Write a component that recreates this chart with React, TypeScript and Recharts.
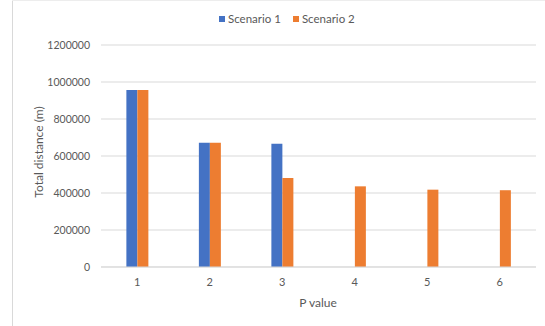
import React from 'react';
import { BarChart, Bar, XAxis, YAxis, CartesianGrid, Legend } from 'recharts';

const categories = ['1', '2', '3', '4', '5', '6'];
const scenario1 = [957000, 672000, 666000, null, null, null];
const scenario2 = [957000, 672000, 481000, 436000, 418000, 415000];
const yTicks = [0, 200000, 400000, 600000, 800000, 1000000, 1200000];
const seriesNames = ['Scenario 1', 'Scenario 2'];
const colors = ['#4472C4', '#ED7D31'];

const data = categories.map((c, i) => ({ p: c, s1: scenario1[i], s2: scenario2[i] }));

const FONT = 'Lato, "Liberation Sans", sans-serif';
const TEXT = '#595959';

const LegendContent = () => (
  <div style={{ display: 'flex', alignItems: 'center', fontFamily: FONT, fontSize: 11.5, color: TEXT, whiteSpace: 'nowrap' }}>
    {seriesNames.map((n, i) => (
      <div key={n} style={{ display: 'flex', alignItems: 'center', marginRight: i === 0 ? 12 : 0 }}>
        <span style={{ display: 'inline-block', width: 6, height: 6, background: colors[i], marginRight: 3 }} />
        <span>{n}</span>
      </div>
    ))}
  </div>
);

export default function App() {
  return (
    <div style={{ position: 'absolute', left: 0, top: 0, width: 545, height: 326, background: '#fff' }}>
      <div style={{ position: 'absolute', left: 12, top: 0, width: 1, height: 326, background: '#D9D9D9' }} />
      <div style={{ position: 'absolute', left: 12, top: 0, width: 533, height: 1, background: '#EDEDED' }} />
      <BarChart
        width={545}
        height={326}
        data={data}
        margin={{ top: 45, right: 9, bottom: 19, left: 0 }}
        barCategoryGap="35%"
        barGap={0}
      >
        <CartesianGrid vertical={false} stroke="#D9D9D9" strokeWidth={1} />
        <XAxis
          dataKey="p"
          height={40}
          tickSize={0}
          tickMargin={11}
          axisLine={{ stroke: '#D9D9D9' }}
          tick={{ fill: TEXT, fontSize: 11, fontFamily: FONT }}
          label={{
            content: () => (
              <text x={318} y={302} textAnchor="middle" dominantBaseline="central" fill={TEXT} fontSize={12} fontFamily={FONT}>
                P value
              </text>
            ),
          }}
        />
        <YAxis
          width={101}
          domain={[0, 1200000]}
          ticks={yTicks}
          tickSize={0}
          tickMargin={11}
          axisLine={false}
          interval={0}
          tick={{ fill: TEXT, fontSize: 10.5, fontFamily: FONT }}
          label={{
            content: () => (
              <text x={38} y={152} transform="rotate(-90 38 152)" textAnchor="middle" dominantBaseline="central" fill={TEXT} fontSize={12} fontFamily={FONT}>
                Total distance (m)
              </text>
            ),
          }}
        />
        <Legend
          layout="horizontal"
          verticalAlign="middle"
          align="center"
          content={<LegendContent />}
          wrapperStyle={{ position: 'absolute', top: 12, left: 219, width: 200, height: 14 }}
        />
        <Bar dataKey="s1" name={seriesNames[0]} fill={colors[0]} isAnimationActive={false} />
        <Bar dataKey="s2" name={seriesNames[1]} fill={colors[1]} isAnimationActive={false} />
      </BarChart>
    </div>
  );
}
